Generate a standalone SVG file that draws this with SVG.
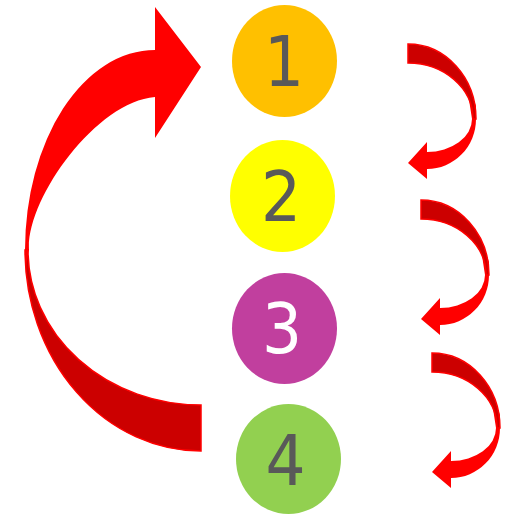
<svg xmlns="http://www.w3.org/2000/svg" width="511" height="515" viewBox="0 0 511 515">
<defs>
<style>
.num{font-family:"DejaVu Sans Condensed","DejaVu Sans","Liberation Sans",sans-serif;font-stretch:condensed;font-size:70px;text-anchor:middle;fill:#595959}
.dark{fill:#CC0000;stroke:#FF0000;stroke-width:1.5}
.bright{fill:#FF0000}
</style>
<g id="small-arrow">
<path class="bright" d="M19,98 L0,119 L19,135 L19,125 A49,50 0 0 0 68,75 L68,62 Q64,48 54,40 Q61,50 62,62 L64,75 A45,33 0 0 1 19,108 Z"/>
<path class="dark" d="M0,0 A68,75 0 0 1 68,75 L65,75 A65,56 0 0 0 0,19 Z"/>
</g>
</defs>
<rect width="511" height="515" fill="#ffffff"/>
<g id="connectors">
<g id="big-arrow">
<path class="dark" d="M201,405 L201,451 A176,201 0 0 1 25,250 L28,250 A173,155 0 0 0 201,405 Z"/>
<path class="bright" d="M155,138 L201,67 L155,7 L155,50 A130,200 0 0 0 25,250 L26,268 Q27,258 29,250 C26,200 95,102 155,97 Z"/>
</g>
<use href="#small-arrow" transform="translate(408,44)"/>
<use href="#small-arrow" transform="translate(421,200)"/>
<use href="#small-arrow" transform="translate(432,353)"/>
</g>
<g id="node1"><ellipse cx="284.5" cy="61" rx="52.5" ry="56" fill="#FFC000"/><text class="num" x="284" y="86">1</text></g>
<g id="node2"><ellipse cx="282.5" cy="196" rx="52.5" ry="56" fill="#FFFF00"/><text class="num" x="281" y="221">2</text></g>
<g id="node3"><ellipse cx="284.5" cy="328.5" rx="52.5" ry="55.5" fill="#C13F9E"/><text class="num" x="282" y="353" style="fill:#ffffff">3</text></g>
<g id="node4"><ellipse cx="288.5" cy="459" rx="52.5" ry="55" fill="#92D050"/><text class="num" x="285.5" y="485">4</text></g>
</svg>
